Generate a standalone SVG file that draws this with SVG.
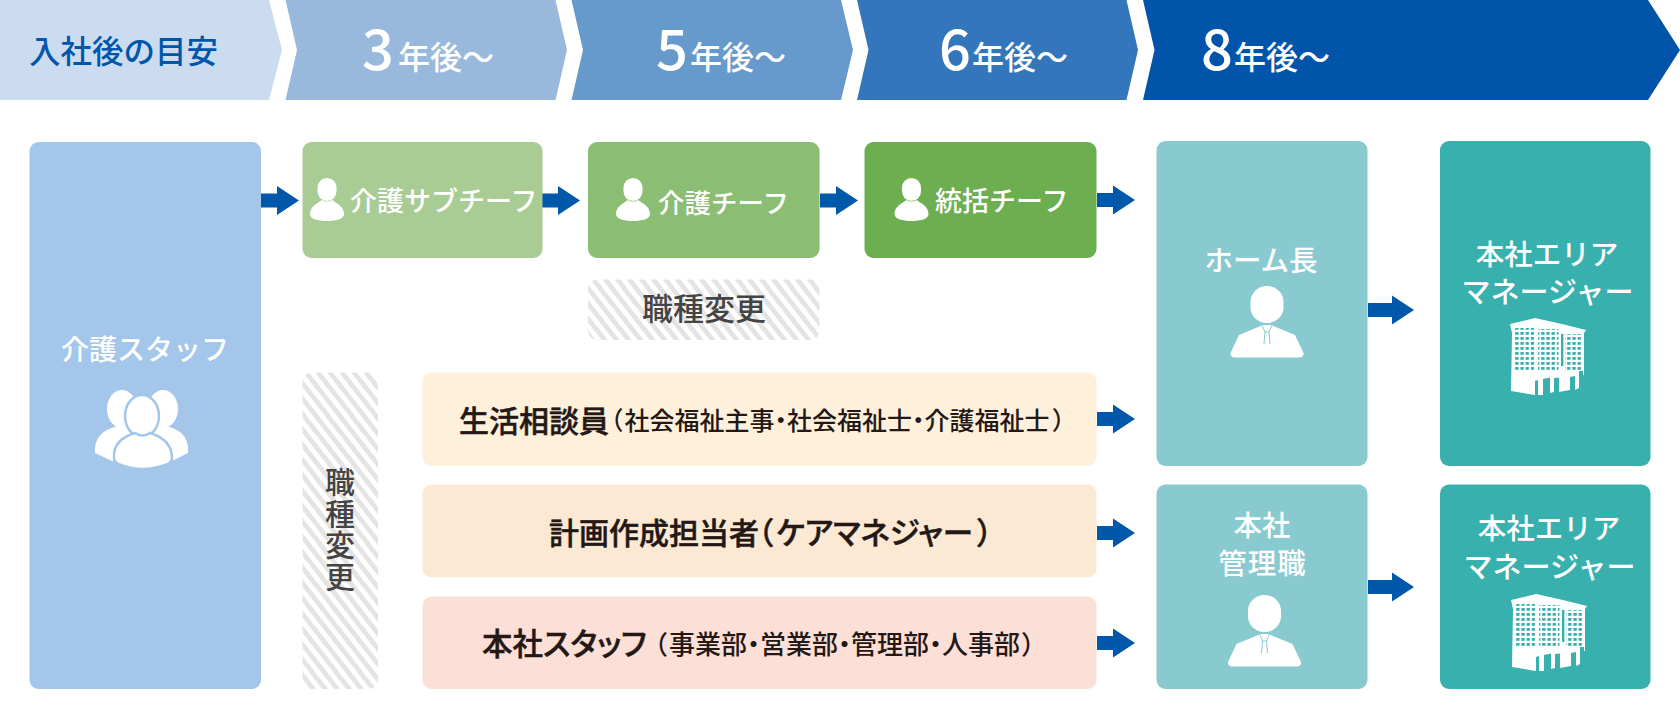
<svg xmlns="http://www.w3.org/2000/svg" width="1680" height="724" viewBox="0 0 1680 724">
<style>
text{font-family:"Noto Sans CJK JP","Noto Sans",sans-serif;font-weight:500}
.w{fill:#fff}
.c{text-anchor:middle}
.d{fill:#231815}
.b{stroke:#231815;stroke-width:.5px}
.g{fill:#444}
.p{font-feature-settings:"palt"}
.a{fill:#0058ab}
.s{font-size:25px}
.t{font-size:26px}
</style>
<defs>
<pattern id="st" width="12" height="20" patternUnits="userSpaceOnUse" patternTransform="skewX(38)">
<rect width="12" height="20" fill="#fff"/><rect width="6" height="20" fill="#e4e4e4"/>
</pattern>
<path id="ar" d="M0-7H16V-14.500L38 0L16 14.500V7H0Z"/>
<path id="ar2" d="M0-7H24V-14.500L46 0L24 14.500V7H0Z"/>
<g id="sm" fill="#fff"><rect x="-9.500" y="0" width="19" height="23" rx="9.500"/><path d="M-17 36C-17 29-11 26-5 22Q0 25 5 22C11 26 17 29 17 36C17 41 9 43 0 43C-9 43-17 41-17 36Z"/></g>
<g id="suit"><rect x="-16.500" y="0" width="33" height="37" rx="16" fill="#fff"/><path d="M-4 39L-28 49L-36.500 67Q-37 71-33 71.500H33Q37 71 36.500 67L28 49L4 39Z" fill="#fff"/><path d="M-5 39L-2 46M5 39L2 46M-2 46H2M-2 46L-3 58M2 46L3 58" fill="none" stroke="currentColor" stroke-width="1"/></g>
<pattern id="wn" width="5.200" height="5" patternUnits="userSpaceOnUse"><rect x="0" y="0" width="3.300" height="2.800" fill="#38b0ae"/></pattern>
<g id="bld">
<path fill="#fff" d="M0 7L25 1L52 7L76 13L74 16V58H73V54H69V71L65 73V59L60 60V73L49 75V60.500L44 61V75L40 76V60.500L33 62V78L28 78V63L25 64V78L1 74L2 16Z"/>
<rect x="4" y="11" width="20.500" height="42" fill="url(#wn)"/>
<rect x="28" y="12" width="20.500" height="42" fill="url(#wn)"/>
<rect x="55" y="17" width="16" height="36" fill="url(#wn)"/>
<rect x="51" y="17" width="2.400" height="32" fill="#38b0ae"/>
</g>
</defs>

<g id="connectors" class="a">
<use href="#ar" x="261" y="200.500"/>
<use href="#ar" x="542" y="200.500"/>
<use href="#ar" x="820" y="200.500"/>
<use href="#ar" x="1097" y="200"/>
<use href="#ar" x="1097" y="419"/>
<use href="#ar" x="1097" y="533"/>
<use href="#ar" x="1097" y="643"/>
<use href="#ar2" x="1368" y="310"/>
<use href="#ar2" x="1368" y="587"/>
</g>

<g id="h0"><path d="M0 0H269L282 50L269 100H0Z" fill="#cbdcf0"/><text x="29" y="63" font-size="31.500" fill="#0056ab">入社後の目安</text></g>
<g id="h3"><path d="M285.500 0H555.500L567 50L555.500 100H285.500L297 50Z" fill="#99b9dc"/><text x="362" y="70" font-size="56" class="w">3</text><text x="398" y="69" font-size="32" class="w">年後～</text></g>
<g id="h5"><path d="M571.500 0H841L853 50L841 100H571.500L583 50Z" fill="#6699cc"/><text x="656" y="70" font-size="56" class="w">5</text><text x="690" y="69" font-size="32" class="w">年後～</text></g>
<g id="h6"><path d="M857 0H1126.500L1138 50L1126.500 100H857L868.500 50Z" fill="#3476bc"/><text x="939" y="70" font-size="56" class="w">6</text><text x="972" y="69" font-size="32" class="w">年後～</text></g>
<g id="h8"><path d="M1143 0H1648L1680 50L1648 100H1143L1154.500 50Z" fill="#0055aa"/><text x="1201" y="70" font-size="56" class="w">8</text><text x="1234" y="69" font-size="32" class="w">年後～</text></g>

<g id="staff"><rect x="29.500" y="142" width="231.500" height="547" rx="9" fill="#a3c6ea"/><text x="145" y="360" font-size="28" class="w c">介護スタッフ</text>
<g fill="#fff"><ellipse cx="122" cy="409" rx="15" ry="19"/><ellipse cx="163" cy="409" rx="15" ry="19"/><path d="M95 453C94 438 102 430 118 426H166C182 430 189 438 188 453L172 461H112Z"/></g>
<g fill="#fff" stroke="#a3c6ea" stroke-width="2.500"><ellipse cx="142" cy="416" rx="17" ry="21"/><path d="M114 458C113 445 122 437 135 433Q142 438 150 433C163 437 172 445 172 458Q172 463 165 465Q142 473 121 465Q114 463 114 458Z"/></g></g>

<g id="subchief"><rect x="302.500" y="142" width="240" height="116" rx="9" fill="#a9cc95"/><use href="#sm" x="327" y="178"/><text x="350" y="211" font-size="27" class="w">介護サブチーフ</text></g>
<g id="chief"><rect x="588" y="142" width="231.500" height="116" rx="9" fill="#8bbd73"/><use href="#sm" x="633" y="178"/><text x="658" y="213" font-size="26.500" class="w">介護チーフ</text></g>
<g id="tochief"><rect x="864.500" y="142" width="232" height="116" rx="9" fill="#6dae50"/><use href="#sm" x="911.500" y="178"/><text x="935" y="211" font-size="27" class="w">統括チーフ</text></g>

<g id="change1"><rect x="588" y="279.500" width="231.500" height="60.500" rx="9" fill="url(#st)"/><text x="704" y="320" font-size="31" class="g c">職種変更</text></g>
<g id="change2"><rect x="302.500" y="372.500" width="75.500" height="316.500" rx="9" fill="url(#st)"/><text x="340" y="530" font-size="30" class="g c" style="writing-mode:vertical-rl;letter-spacing:1.500px">職種変更</text></g>

<g id="row1"><rect x="422.500" y="372.500" width="674" height="93.500" rx="9" fill="#fff0dc"/><text x="459" y="432" font-size="30" class="d b">生活相談員</text><text x="610" y="430" class="d s p">（<tspan dx="2">社会福祉主事・社会福祉士・介護福祉士</tspan><tspan dx="3">）</tspan></text></g>
<g id="row2"><rect x="422.500" y="484.500" width="674" height="93" rx="9" fill="#fce9d4"/><text x="549" y="544" font-size="30" class="d b">計画作成担当者</text><text x="758" y="544" font-size="30.500" class="d p b">（<tspan dx="3">ケアマネジャー</tspan><tspan dx="4">）</tspan></text></g>
<g id="row3"><rect x="422.500" y="596.500" width="674" height="92.500" rx="9" fill="#fcdfd6"/><text x="482" y="655" font-size="30.500" class="d p b">本社スタッフ</text><text x="654" y="654" class="d t p">（<tspan dx="2">事業部・営業部・管理部・人事部</tspan><tspan dx="2">）</tspan></text></g>

<g id="home"><rect x="1156.500" y="141" width="211" height="325" rx="9" fill="#88cacf"/><text x="1261" y="271" font-size="28.500" class="w c">ホーム長</text><use href="#suit" x="1267" y="286" color="#88cacf"/></g>
<g id="hq"><rect x="1156.500" y="484.500" width="211" height="204.500" rx="9" fill="#88cacf"/><text x="1262" y="536" font-size="28.500" class="w c">本社</text><text x="1262.500" y="574" font-size="28.500" class="w c" letter-spacing="1">管理職</text><use href="#suit" x="1264.500" y="595" color="#88cacf"/></g>
<g id="area1"><rect x="1440" y="141" width="210.500" height="325" rx="9" fill="#38b0ae"/><text x="1547" y="265" font-size="28.500" class="w c">本社エリア</text><text x="1547.500" y="303" font-size="29" class="w c">マネージャー</text><use href="#bld" x="1510" y="317"/></g>
<g id="area2"><rect x="1440" y="484.500" width="210.500" height="204.500" rx="9" fill="#38b0ae"/><text x="1549" y="539" font-size="28.500" class="w c">本社エリア</text><text x="1549.500" y="578" font-size="29" class="w c">マネージャー</text><use href="#bld" x="1511" y="593"/></g>
</svg>
